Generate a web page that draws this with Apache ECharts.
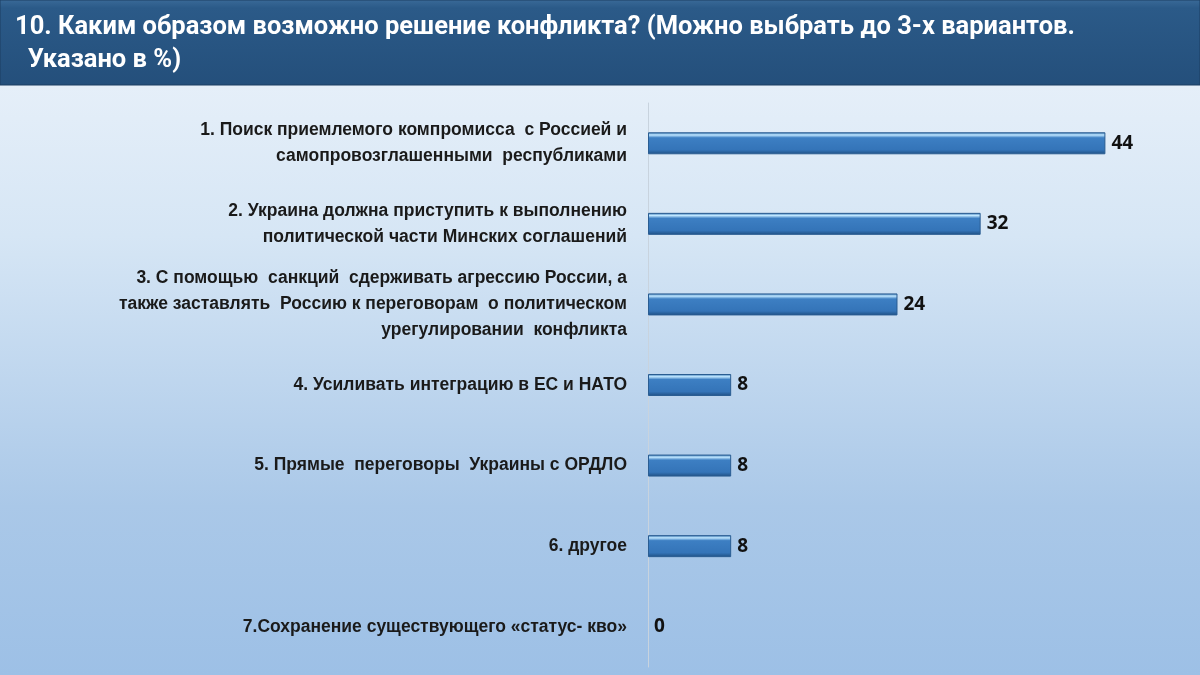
<!DOCTYPE html>
<html>
<head>
<meta charset="utf-8">
<script src="https://cdn.jsdelivr.net/npm/echarts@6/dist/echarts.min.js"></script>
<style>
html,body{margin:0;padding:0;}
#chart{width:1200px;height:675px;background:linear-gradient(180deg,#eef4fb 0%,#d6e6f5 35%,#aac8e8 75%,#9dc0e6 100%);}
</style>
</head>
<body>
<div id="chart"></div>
<script>
var categories = [
    '1. Поиск приемлемого компромисса  с Россией и\nсамопровозглашенными  республиками',
    '2. Украина должна приступить к выполнению\nполитической части Минских соглашений',
    '3. С помощью  санкций  сдерживать агрессию России, а\nтакже заставлять  Россию к переговорам  о политическом\nурегулировании  конфликта',
    '4. Усиливать интеграцию в ЕС и НАТО',
    '5. Прямые  переговоры  Украины с ОРДЛО',
    '6. другое',
    '7.Сохранение существующего «статус- кво»'
];
var values = [44, 32, 24, 8, 8, 8, 0];
var titleText = '10. Каким образом возможно решение конфликта? (Можно выбрать до 3-х вариантов.\n  Указано в %)';

var chart = echarts.init(document.getElementById('chart'));
var option = {
    title: {
        text: titleText,
        left: 10,
        top: 6,
        textStyle: {
            color: '#ffffff',
            fontFamily: 'Roboto',
            fontWeight: 'bold',
            fontSize: 25.5,
            lineHeight: 33
        }
    },
    graphic: [{
        type: 'rect',
        z: -1,
        shape: {x: 0, y: 0, width: 1200, height: 85},
        style: {
            fill: new echarts.graphic.LinearGradient(0, 0, 0, 1, [
                {offset: 0, color: '#3a6a98'},
                {offset: 0.1, color: '#2b5a88'},
                {offset: 1, color: '#244f7b'}
            ]),
            stroke: '#1d3f63',
            lineWidth: 1
        }
    }],
    grid: {left: 648, right: 0, top: 103, height: 564, containLabel: false},
    xAxis: {
        type: 'value',
        min: 0,
        max: 53.1,
        show: false
    },
    yAxis: {
        type: 'category',
        data: categories,
        inverse: true,
        axisLine: {show: true, lineStyle: {color: '#c8d3de', width: 1}},
        axisTick: {show: false},
        axisLabel: {
            margin: 21,
            color: '#1a1a1a',
            fontFamily: 'Liberation Sans',
            fontWeight: 'bold',
            fontSize: 17.5,
            lineHeight: 26,
            align: 'right'
        }
    },
    series: [{
        type: 'bar',
        data: values.map(function (v) {
            return v === 0 ? {value: v, itemStyle: {borderWidth: 0, opacity: 0}} : v;
        }),
        barWidth: 22,
        itemStyle: {
            color: new echarts.graphic.LinearGradient(0, 0, 0, 1, [
                {offset: 0, color: '#2f6fae'},
                {offset: 0.12, color: '#bfe6ff'},
                {offset: 0.25, color: '#3d7fc3'},
                {offset: 0.8, color: '#3474b8'},
                {offset: 1, color: '#1f4f82'}
            ]),
            borderColor: '#2a5d92',
            borderWidth: 1
        },
        label: {
            show: true,
            position: 'right',
            distance: 6,
            color: '#111',
            opacity: 1,
            fontFamily: 'Open Sans',
            fontWeight: 'bold',
            fontSize: 19
        }
    }]
};
chart.setOption(option);
</script>
</body>
</html>
